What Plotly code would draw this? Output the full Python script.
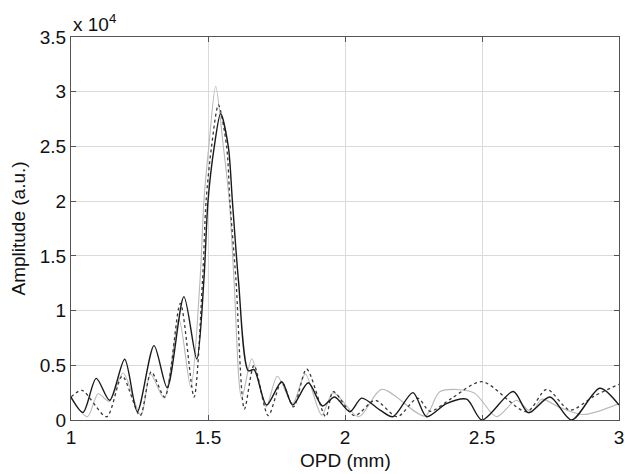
import plotly.graph_objects as go

SCALE = 1e4  # amplitudes below are read in units of x10^4 a.u.

# Solid black curve
solid_x = [1.000, 1.044, 1.092, 1.141, 1.196, 1.242, 1.303, 1.351, 1.412, 1.459, 1.485, 1.500, 1.523,
           1.546, 1.574, 1.589, 1.611, 1.647, 1.668, 1.714, 1.769, 1.809, 1.866, 1.918, 1.962, 2.018,
           2.061, 2.128, 2.175, 2.248, 2.298, 2.370, 2.444, 2.500, 2.614, 2.669, 2.748, 2.827, 2.930, 3.000]
solid_y = [0.21, 0.07, 0.38, 0.18, 0.555, 0.076, 0.68, 0.295, 1.127, 0.557, 1.28, 2.00, 2.50,
           2.80, 2.50, 2.00, 1.28, 0.45, 0.46, 0.137, 0.35, 0.137, 0.34, 0.128, 0.21, 0.076,
           0.20, 0.09, 0.03, 0.25, 0.03, 0.15, 0.19, 0.00, 0.26, 0.067, 0.21, 0.00, 0.29, 0.137]

# Dotted black curve
dotted_x = [1.000, 1.040, 1.130, 1.187, 1.252, 1.293, 1.342, 1.399, 1.449, 1.480, 1.493, 1.513, 1.538,
            1.568, 1.580, 1.602, 1.633, 1.668, 1.720, 1.769, 1.812, 1.860, 1.930, 1.957, 2.035, 2.110,
            2.190, 2.265, 2.310, 2.390, 2.500, 2.663, 2.736, 2.821, 2.910, 3.000]
dotted_y = [0.21, 0.27, 0.03, 0.40, 0.04, 0.44, 0.21, 1.066, 0.21, 1.28, 2.00, 2.50, 2.88,
            2.50, 2.00, 1.28, 0.10, 0.50, 0.04, 0.35, 0.12, 0.466, 0.03, 0.26, 0.04, 0.18,
            0.03, 0.20, 0.08, 0.20, 0.35, 0.076, 0.28, 0.09, 0.22, 0.326]

# Light grey curve
gray_x = [1.000, 1.060, 1.099, 1.140, 1.190, 1.255, 1.290, 1.340, 1.394, 1.437, 1.471, 1.485, 1.503,
          1.528, 1.556, 1.578, 1.595, 1.623, 1.660, 1.712, 1.753, 1.809, 1.855, 1.915, 1.957, 2.050,
          2.134, 2.292, 2.347, 2.470, 2.553, 2.626, 2.680, 2.718, 2.780, 2.870, 3.000]
gray_y = [0.20, 0.03, 0.24, 0.17, 0.43, 0.04, 0.42, 0.20, 0.92, 0.30, 1.28, 2.00, 2.50,
          3.05, 2.50, 2.00, 1.28, 0.20, 0.56, 0.12, 0.40, 0.15, 0.42, 0.045, 0.25, 0.03,
          0.28, 0.036, 0.26, 0.25, 0.03, 0.18, 0.07, 0.19, 0.12, 0.05, 0.15]

x_ticks = [1, 1.5, 2, 2.5, 3]
x_tick_labels = ["1", "1.5", "2", "2.5", "3"]
y_ticks = [0, 0.5, 1, 1.5, 2, 2.5, 3, 3.5]
y_tick_labels = ["0", "0.5", "1", "1.5", "2", "2.5", "3", "3.5"]

FONT = "Liberation Sans, Arial, sans-serif"

fig = go.Figure()
fig.add_trace(go.Scatter(x=gray_x, y=[v * SCALE for v in gray_y], mode="lines",
                         line=dict(color="#b8b8b8", width=1.1, shape="spline", smoothing=0.8)))
fig.add_trace(go.Scatter(x=dotted_x, y=[v * SCALE for v in dotted_y], mode="lines",
                         line=dict(color="#3a3a3a", width=1.3, dash="dot", shape="spline", smoothing=0.8)))
fig.add_trace(go.Scatter(x=solid_x, y=[v * SCALE for v in solid_y], mode="lines",
                         line=dict(color="#1a1a1a", width=1.4, shape="spline", smoothing=0.8)))

axis_common = dict(showgrid=True, gridcolor="#dadada", gridwidth=1, showline=True, linecolor="#555555",
                   linewidth=1, mirror="ticks", ticks="inside", ticklen=5, tickcolor="#555555",
                   zeroline=False, automargin=False,
                   tickfont=dict(family=FONT, size=19, color="#111111"))

fig.update_layout(
    width=625, height=474,
    margin=dict(l=71, r=6, t=37, b=54),
    paper_bgcolor="white", plot_bgcolor="white",
    showlegend=False,
    font=dict(family=FONT, size=19, color="#111111"),
    xaxis=dict(range=[1, 3], tickvals=x_ticks, ticktext=x_tick_labels, **axis_common),
    yaxis=dict(range=[0, 3.5 * SCALE], tickvals=[t * SCALE for t in y_ticks], ticktext=y_tick_labels,
               **axis_common),
    annotations=[
        dict(text="x 10<sup>4</sup>", xref="paper", yref="paper", x=0, y=1,
             xanchor="left", yanchor="bottom", yshift=0, showarrow=False,
             font=dict(family=FONT, size=19, color="#111111")),
        dict(text="OPD (mm)", xref="paper", yref="paper", x=0.5, y=0, yshift=-40,
             xanchor="center", yanchor="middle", showarrow=False,
             font=dict(family=FONT, size=19, color="#111111")),
        dict(text="Amplitude (a.u.)", xref="paper", yref="paper", x=0, y=0.5, xshift=-53,
             xanchor="center", yanchor="middle", textangle=-90, showarrow=False,
             font=dict(family=FONT, size=19, color="#111111")),
    ],
)

fig.write_html("out.html", config={"displayModeBar": False},
               post_script="document.body.style.margin='0';document.body.style.overflow='hidden';")
